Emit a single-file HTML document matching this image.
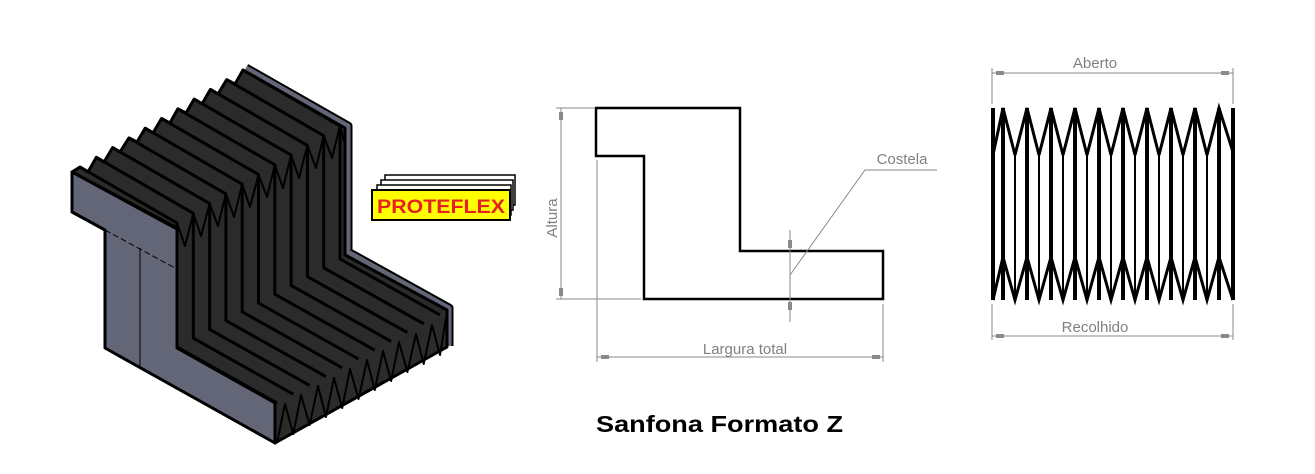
<!DOCTYPE html>
<html><head><meta charset="utf-8"><style>html,body{margin:0;padding:0;background:#fff;}svg{display:block}</style></head>
<body>
<svg width="1315" height="474" viewBox="0 0 1315 474" xmlns="http://www.w3.org/2000/svg" font-family="Liberation Sans, sans-serif">
<!-- LEFT 3D BELLOWS -->
<g stroke-linejoin="round">
  <polyline points="246,68 348,126 348,252 449,308 449,346" fill="none" stroke="#000" stroke-width="9"/>
  <polyline points="246,68 348,126 348,252 449,308 449,346" fill="none" stroke="#636677" stroke-width="5"/>
  <polygon points="72,172 80,167 88,172 96.3,157.3 104,162 112.6,147.6 120,152 128.9,137.9 137,142 145.2,128.2 153,133 161.5,118.5 170,123 177.8,108.8 186,113 194.1,99.1 202,104 210.4,89.4 218,94 226.7,79.7 235,84 243,70 345,128 345,255 447,310 447,347 275,443 275,403 177,348 177,228" fill="#2b2b2b" stroke="#000" stroke-width="3"/>
  <g fill="none" stroke="#000" stroke-width="3">
    <polyline points="80,167 177,223 177,347 277,403"/>
    <polyline points="96.3,157.3 193.3,213.3 193.3,338.2 293.3,394.2"/>
    <polyline points="112.6,147.6 209.6,203.6 209.6,329.4 309.6,385.4"/>
    <polyline points="128.9,137.9 225.9,193.9 225.9,320.6 325.9,376.6"/>
    <polyline points="145.2,128.2 242.2,184.2 242.2,311.8 342.2,367.8"/>
    <polyline points="161.5,118.5 258.5,174.5 258.5,303 358.5,359"/>
    <polyline points="177.8,108.8 274.8,164.8 274.8,294.2 374.8,350.2"/>
    <polyline points="194.1,99.1 291.1,155.1 291.1,285.4 391.1,341.4"/>
    <polyline points="210.4,89.4 307.4,145.4 307.4,276.6 407.4,332.6"/>
    <polyline points="226.7,79.7 323.7,135.7 323.7,267.8 423.7,323.8"/>
    <polyline points="243,70 340,126 340,259 440,315"/>
    <polyline stroke-width="2" points="177,223 185,246 193.3,213.3 201,236 209.6,203.6 218,226 225.9,193.9 234,217 242.2,184.2 250,207 258.5,174.5 267,197 274.8,164.8 283,188 291.1,155.1 299,178 307.4,145.4 316,168 323.7,135.7 332,158 340,126 345,145"/>
    <polyline stroke-width="2" points="277,443 285,404 293.3,434 301,395 309.6,425 318,386 325.9,417 334,378 342.2,408 350,369 358.5,399 367,360 374.8,390 383,351 391.1,381 399,342 407.4,372 416,334 423.7,364 432,325 440,355 446,318"/>
  </g>
  <polygon points="72,172 177,229 177,348 275,403 275,443 105,348 105,230 72,212" fill="#636677" stroke="#000" stroke-width="3"/>
  <line x1="140" y1="248" x2="140" y2="367" stroke="#000" stroke-width="1"/>
  <line x1="105" y1="230" x2="175" y2="268" stroke="#000" stroke-width="1" stroke-dasharray="6,3"/>
</g>
<!-- LOGO -->
<g stroke="#000" stroke-width="1.5">
  <rect x="385" y="175" width="130" height="30" fill="#fff"/>
  <rect x="381" y="180" width="132" height="30" fill="#fff"/>
  <rect x="377" y="185" width="134" height="30" fill="#fff"/>
  <rect x="372" y="190" width="138" height="30" fill="#ffff00" stroke-width="2"/>
</g>
<text x="441" y="213" font-size="19" font-weight="bold" fill="#e52121" text-anchor="middle" textLength="128" lengthAdjust="spacingAndGlyphs">PROTEFLEX</text>
<!-- MIDDLE Z -->
<polygon points="596,108 740,108 740,251 883,251 883,299 644,299 644,156 596,156" fill="none" stroke="#000" stroke-width="2.5"/>
<g stroke="#8a8a8a" stroke-width="1" fill="none">
  <line x1="556" y1="108" x2="594" y2="108"/>
  <line x1="556" y1="299" x2="641" y2="299"/>
  <line x1="561" y1="108" x2="561" y2="299"/>
  <line x1="597" y1="160" x2="597" y2="362"/>
  <line x1="883" y1="304" x2="883" y2="362"/>
  <line x1="597" y1="357" x2="883" y2="357"/>
  <line x1="790" y1="230" x2="790" y2="322"/>
  <polyline points="790,275 865,170 937,170"/>
</g>
<g fill="#8a8a8a">
  <rect x="559" y="112" width="4" height="8"/><rect x="559" y="288" width="4" height="8"/>
  <rect x="601" y="355" width="8" height="4"/><rect x="872" y="355" width="8" height="4"/>
  <rect x="788" y="240" width="4" height="8"/><rect x="788" y="302" width="4" height="8"/>
</g>
<g fill="#808080" font-size="15">
  <text x="0" y="0" transform="translate(557,218) rotate(-90)" text-anchor="middle">Altura</text>
  <text x="745" y="354" text-anchor="middle">Largura total</text>
  <text x="902" y="164" text-anchor="middle">Costela</text>
  <text x="1095" y="68" text-anchor="middle">Aberto</text>
  <text x="1095" y="332" text-anchor="middle">Recolhido</text>
</g>
<!-- RIGHT -->
<g stroke="#8a8a8a" stroke-width="1">
  <line x1="992" y1="68" x2="992" y2="104"/><line x1="1233" y1="68" x2="1233" y2="104"/>
  <line x1="992" y1="73" x2="1233" y2="73"/>
  <line x1="992" y1="304" x2="992" y2="340"/><line x1="1233" y1="304" x2="1233" y2="340"/>
  <line x1="992" y1="336" x2="1233" y2="336"/>
</g>
<g fill="#8a8a8a"><rect x="996" y="71" width="8" height="4"/><rect x="1221" y="71" width="8" height="4"/><rect x="996" y="334" width="8" height="4"/><rect x="1221" y="334" width="8" height="4"/></g>
<g stroke="#000" fill="none">
  <g stroke-width="4">
    <line x1="993" y1="108" x2="993" y2="300"/><line x1="1233" y1="108" x2="1233" y2="300"/>
    <line x1="1003" y1="108" x2="1003" y2="300"/><line x1="1027" y1="108" x2="1027" y2="300"/>
    <line x1="1051" y1="108" x2="1051" y2="300"/><line x1="1075" y1="108" x2="1075" y2="300"/>
    <line x1="1099" y1="108" x2="1099" y2="300"/><line x1="1123" y1="108" x2="1123" y2="300"/>
    <line x1="1147" y1="108" x2="1147" y2="300"/><line x1="1171" y1="108" x2="1171" y2="300"/>
    <line x1="1195" y1="108" x2="1195" y2="300"/><line x1="1219" y1="108" x2="1219" y2="300"/>
  </g>
  <g stroke-width="2">
    <line x1="1015" y1="155" x2="1015" y2="300"/><line x1="1039" y1="155" x2="1039" y2="300"/>
    <line x1="1063" y1="155" x2="1063" y2="300"/><line x1="1087" y1="155" x2="1087" y2="300"/>
    <line x1="1111" y1="155" x2="1111" y2="300"/><line x1="1135" y1="155" x2="1135" y2="300"/>
    <line x1="1159" y1="155" x2="1159" y2="300"/><line x1="1183" y1="155" x2="1183" y2="300"/>
    <line x1="1207" y1="155" x2="1207" y2="300"/>
  </g>
  <polyline stroke-width="3" points="993,155 1003,108 1015,155 1027,108 1039,155 1051,108 1063,155 1075,108 1087,155 1099,108 1111,155 1123,108 1135,155 1147,108 1159,155 1171,108 1183,155 1195,108 1207,155 1219,108 1233,152"/>
  <polyline stroke-width="3" points="993,300 1003,257 1015,300 1027,257 1039,300 1051,257 1063,300 1075,257 1087,300 1099,257 1111,300 1123,257 1135,300 1147,257 1159,300 1171,257 1183,300 1195,257 1207,300 1219,257 1233,300"/>
</g>
<!-- TITLE -->
<text x="596" y="432" font-size="23" font-weight="bold" fill="#000" textLength="247" lengthAdjust="spacingAndGlyphs">Sanfona Formato Z</text>
</svg>
</body></html>
